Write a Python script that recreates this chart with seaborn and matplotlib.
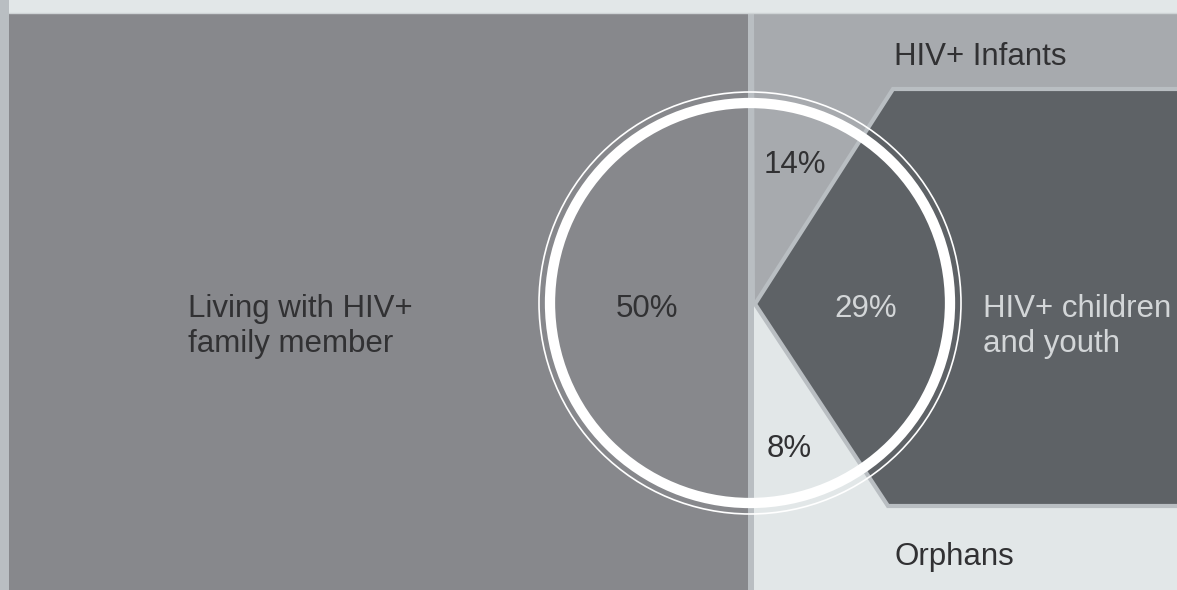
import matplotlib
matplotlib.use("Agg")
from matplotlib import pyplot as plt
from matplotlib.patches import Circle, Polygon, Rectangle
import seaborn as sns

# data
groups = ["Living with HIV+\nfamily member", "HIV+ Infants",
          "HIV+ children\nand youth", "Orphans"]
shares = [50, 14, 29, 8]

sns.set_theme(style="white")
plt.rcParams["font.family"] = ["Liberation Sans", "DejaVu Sans"]

# grays of the graphic
c_left = "#87888c"
c_edge = "#b9bec2"
c_light = "#e2e7e8"
c_infant = "#a7aaae"
c_dark = "#5e6266"
c_text = "#313133"
c_text_light = "#d3d6d8"

W, H = 1177, 590
fig = plt.figure(figsize=(W / 100, H / 100), dpi=100)
ax = fig.add_axes([0, 0, 1, 1])
ax.set_xlim(0, W)
ax.set_ylim(H, 0)
ax.axis("off")

# background frame
ax.add_patch(Rectangle((0, 0), W, H, color=c_edge, lw=0))
ax.add_patch(Rectangle((9, 0), W, 13, color=c_light, lw=0))
ax.plot([9, W], [13, 13], color="#cfd4d6", lw=1)

# left block: 50 %
ax.add_patch(Rectangle((9, 14), 739, H, color=c_left, lw=0))

# right side
apex = (755, 304)
top_y, bot_y = 89, 506
ax.add_patch(Polygon([(754, 14), (W, 14), (W, top_y), (893, top_y), apex],
                     closed=True, color=c_infant, lw=0))
ax.add_patch(Polygon([(754, apex[1]), (888, bot_y), (W, bot_y), (W, H), (754, H)],
                     closed=True, color=c_light, lw=0))
ax.add_patch(Polygon([apex, (893, top_y), (W + 20, top_y), (W + 20, bot_y), (888, bot_y)],
                     closed=True, fc=c_dark, ec=c_edge, lw=3, joinstyle="miter"))

# ring
ax.add_patch(Circle((750, 303), 200, fill=False, ec="white", lw=7.4))
ax.add_patch(Circle((750, 303), 211, fill=False, ec="white", lw=1.2))

# labels (two-line labels are anchored at the baseline of the last line)
fs = 22.5
ax.text(188, 352, groups[0], fontsize=fs, color=c_text, ha="left",
        va="baseline", linespacing=1.2)
ax.text(894, 65, groups[1], fontsize=fs, color=c_text, ha="left", va="baseline")
ax.text(983, 352, groups[2], fontsize=fs, color=c_text_light, ha="left",
        va="baseline", linespacing=1.2)
ax.text(894, 565, groups[3], fontsize=fs, color=c_text, ha="left", va="baseline")

pct_pos = [(647, 317), (795, 173), (866, 317), (789, 457)]
pct_col = [c_text, c_text, c_text_light, c_text]
for v, (x, y), c in zip(shares, pct_pos, pct_col):
    ax.text(x, y, "%d%%" % v, fontsize=fs, color=c, ha="center", va="baseline")

fig.savefig("out.png", dpi=100)
